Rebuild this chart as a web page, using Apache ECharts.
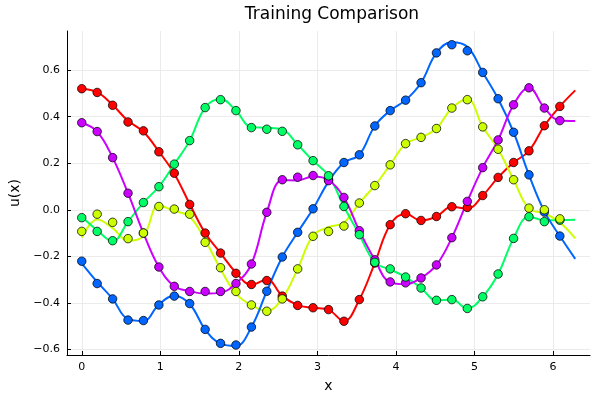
<!DOCTYPE html>
<html>
<head>
<meta charset="utf-8">
<script src="https://cdn.jsdelivr.net/npm/echarts@6/dist/echarts.min.js"></script>
<style>
  html, body { margin: 0; padding: 0; background: #fff; }
  #chart { width: 600px; height: 400px; }
</style>
</head>
<body>
<div id="chart"></div>
<script>
// training points (x = k * 2pi/32)
var xPts = [0, 0.196, 0.393, 0.589, 0.785, 0.982, 1.178, 1.374, 1.571, 1.767, 1.963, 2.16,
    2.356, 2.553, 2.749, 2.945, 3.142, 3.338, 3.534, 3.731, 3.927, 4.123, 4.32, 4.516,
    4.712, 4.909, 5.105, 5.301, 5.498, 5.694, 5.89, 6.087];
// prediction curve x (same grid plus 2pi)
var xLine = xPts.concat([6.283]);

var redPts = [0.52, 0.504, 0.449, 0.377, 0.339, 0.249, 0.157, 0.023, -0.1, -0.186, -0.273, -0.321,
    -0.304, -0.371, -0.411, -0.421, -0.429, -0.479, -0.386, -0.229, -0.064, -0.017, -0.046, -0.029,
    0.013, 0.01, 0.061, 0.139, 0.203, 0.253, 0.361, 0.444];
var purplePts = [0.374, 0.336, 0.224, 0.071, -0.1, -0.246, -0.329, -0.351, -0.351, -0.351, -0.317, -0.233,
    -0.011, 0.129, 0.14, 0.147, 0.125, 0.053, -0.09, -0.215, -0.31, -0.314, -0.293, -0.237,
    -0.12, 0.036, 0.181, 0.3, 0.451, 0.524, 0.437, 0.383];
var greenPts = [-0.034, -0.093, -0.133, -0.051, 0.031, 0.099, 0.196, 0.297, 0.439, 0.473, 0.426, 0.353,
    0.346, 0.337, 0.279, 0.211, 0.146, 0.014, -0.107, -0.226, -0.254, -0.289, -0.336, -0.389,
    -0.386, -0.424, -0.374, -0.276, -0.123, -0.03, -0.051, -0.045];
var yellowPts = [-0.093, -0.019, -0.054, -0.124, -0.1, 0.014, 0.003, -0.019, -0.14, -0.249, -0.351, -0.409,
    -0.436, -0.383, -0.254, -0.114, -0.093, -0.07, 0.029, 0.104, 0.193, 0.284, 0.311, 0.349,
    0.437, 0.473, 0.356, 0.26, 0.129, 0.007, 0.0, -0.039];
var bluePts = [-0.221, -0.317, -0.383, -0.474, -0.476, -0.409, -0.371, -0.403, -0.514, -0.574, -0.581, -0.504,
    -0.35, -0.203, -0.097, 0.004, 0.13, 0.203, 0.236, 0.36, 0.426, 0.471, 0.546, 0.674,
    0.709, 0.683, 0.59, 0.477, 0.333, 0.15, -0.01, -0.113];

var redLine = [0.52, 0.505, 0.45, 0.382, 0.335, 0.25, 0.155, 0.025, -0.1, -0.186, -0.27, -0.322,
    -0.3, -0.37, -0.41, -0.421, -0.43, -0.478, -0.386, -0.229, -0.064, -0.017, -0.046, -0.029,
    0.013, 0.005, 0.061, 0.139, 0.203, 0.253, 0.361, 0.444, 0.513];
var purpleLine = [0.374, 0.336, 0.224, 0.071, -0.1, -0.246, -0.329, -0.35, -0.36, -0.356, -0.317, -0.233,
    -0.011, 0.127, 0.126, 0.143, 0.128, 0.053, -0.09, -0.215, -0.312, -0.32, -0.293, -0.237,
    -0.12, 0.036, 0.181, 0.3, 0.451, 0.524, 0.437, 0.383, 0.381];
var greenLine = [-0.03, -0.088, -0.135, -0.051, 0.031, 0.099, 0.196, 0.297, 0.439, 0.476, 0.426, 0.355,
    0.352, 0.345, 0.279, 0.211, 0.146, 0.014, -0.107, -0.226, -0.257, -0.289, -0.336, -0.389,
    -0.386, -0.424, -0.374, -0.276, -0.123, -0.03, -0.045, -0.045, -0.043];
var yellowLine = [-0.12, -0.042, -0.079, -0.133, -0.113, 0.018, -0.005, -0.03, -0.13, -0.255, -0.36, -0.41,
    -0.435, -0.38, -0.254, -0.111, -0.075, -0.055, 0.029, 0.104, 0.193, 0.284, 0.311, 0.349,
    0.437, 0.475, 0.356, 0.26, 0.129, 0.005, -0.015, -0.055, -0.123];
var blueLine = [-0.23, -0.31, -0.383, -0.47, -0.478, -0.407, -0.369, -0.405, -0.514, -0.575, -0.585, -0.504,
    -0.35, -0.203, -0.097, 0.004, 0.121, 0.203, 0.236, 0.36, 0.426, 0.471, 0.546, 0.674,
    0.72, 0.7, 0.59, 0.477, 0.333, 0.15, -0.007, -0.113, -0.211];

var colors = {
    red: '#ff0000',
    yellow: '#ccff00',
    green: '#00ff66',
    blue: '#0066ff',
    purple: '#cc00ff'
};

var myChart = echarts.init(document.getElementById('chart'));

function pairs(xs, ys) {
    return ys.map(function (v, i) { return [xs[i], v]; });
}

function lineSeries(ys, color) {
    return {
        type: 'line',
        data: pairs(xLine, ys),
        smooth: 0.4,
        showSymbol: false,
        silent: true,
        lineStyle: { color: color, width: 2 },
        z: 2
    };
}

function dotSeries(ys, color) {
    return {
        type: 'scatter',
        data: pairs(xPts, ys),
        symbol: 'circle',
        symbolSize: 8.5,
        itemStyle: { color: color, borderColor: 'rgba(0,0,0,0.75)', borderWidth: 1, opacity: 1 },
        z: 3
    };
}

var fontFam = 'DejaVu Sans';

var option = {
    backgroundColor: '#ffffff',
    animation: false,
    title: {
        text: 'Training Comparison',
        left: 327,
        top: 1,
        textAlign: 'center',
        textStyle: { fontFamily: fontFam, fontSize: 17, fontWeight: 'normal', color: '#000' }
    },
    grid: { left: 64, right: 10, top: 31, bottom: 45 },
    xAxis: {
        type: 'value',
        min: -0.188,
        max: 6.471,
        splitNumber: 7,
        name: 'x',
        nameLocation: 'middle',
        nameGap: 24,
        nameTextStyle: { fontFamily: fontFam, fontSize: 14, color: '#000' },
        axisLine: { show: true, onZero: false, lineStyle: { color: '#000', width: 1 } },
        axisTick: { show: true, inside: true, length: 4, lineStyle: { color: '#000' } },
        axisLabel: {
            fontFamily: fontFam, fontSize: 11, color: '#000', margin: 7,
            showMinLabel: false, showMaxLabel: false
        },
        splitLine: { show: true, showMinLine: false, showMaxLine: false, lineStyle: { color: '#ebebeb', width: 1 } }
    },
    yAxis: {
        type: 'value',
        min: -0.624,
        max: 0.768,
        splitNumber: 7,
        name: 'u(x)',
        nameLocation: 'middle',
        nameGap: 45,
        nameRotate: 90,
        nameTextStyle: { fontFamily: fontFam, fontSize: 14, color: '#000' },
        axisLine: { show: true, onZero: false, lineStyle: { color: '#000', width: 1 } },
        axisTick: { show: true, inside: true, length: 4, lineStyle: { color: '#000' } },
        axisLabel: {
            fontFamily: fontFam, fontSize: 11, color: '#000', margin: 7,
            showMinLabel: false, showMaxLabel: false,
            formatter: function (v) { return v.toFixed(1).replace('-', '\u2212'); }
        },
        splitLine: { show: true, showMinLine: false, showMaxLine: false, lineStyle: { color: '#ebebeb', width: 1 } }
    },
    series: [
        lineSeries(redLine, colors.red),
        lineSeries(yellowLine, colors.yellow),
        lineSeries(greenLine, colors.green),
        lineSeries(blueLine, colors.blue),
        lineSeries(purpleLine, colors.purple),
        dotSeries(redPts, colors.red),
        dotSeries(bluePts, colors.blue),
        dotSeries(purplePts, colors.purple),
        dotSeries(greenPts, colors.green),
        dotSeries(yellowPts, colors.yellow)
    ]
};

myChart.setOption(option);

window.onresize = function () {
    myChart.resize();
};
</script>
</body>
</html>
